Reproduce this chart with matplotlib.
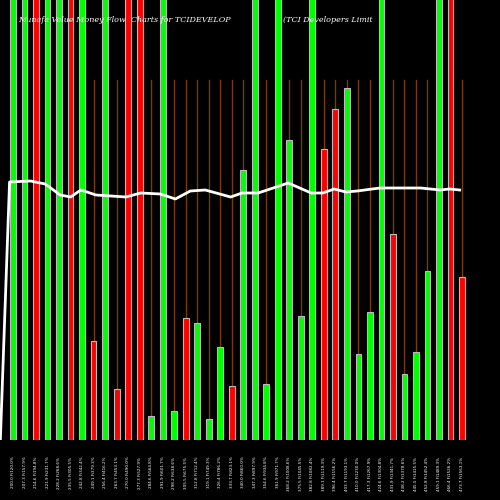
import matplotlib
matplotlib.use("Agg")
import matplotlib.pyplot as plt
import numpy as np

# bar colours and heights (pixel-like units, axis top = 440; taller bars run off the top)
colors = ["g", "g", "r", "g", "g", "r", "g", "r", "g", "r",
          "r", "r", "g", "g", "g", "r", "g", "g", "g", "r",
          "g", "g", "g", "g", "g", "g", "g", "r", "r", "g",
          "g", "g", "g", "r", "g", "g", "g", "g", "r", "r"]
heights = [460, 460, 460, 460, 460, 460, 460, 99, 460, 51,
           460, 460, 24, 460, 29, 122, 117, 21, 93, 54,
           270, 460, 56, 460, 300, 124, 460, 291, 331, 352,
           86, 128, 460, 206, 66, 88, 169, 460, 460, 163]

# white line (x position in bar index units, height)
line_x = [-1.1, -0.3, 1.5, 2.8, 4.1, 5.0, 5.9, 7.2, 9.8, 11.1, 12.8, 14.1, 15.4,
          16.7, 18.9, 19.9, 21.3, 23.9, 25.9, 26.9, 27.9, 28.9, 29.9, 31.2, 31.9,
          35.4, 37.1, 37.9, 38.8]
line_y = [0, 258, 259, 256, 245, 243, 250, 245, 243, 247, 246, 241, 249,
          250, 243, 247, 247, 257, 247, 247, 251, 248, 249, 251, 252,
          252, 250, 251, 250]

labels = ["%d.%d Fi%d.%d%%" % (200 + 7 * i, (13 * i) % 10, 120 + 37 * i, (29 * i) % 10)
          for i in range(len(heights))]

GREEN = "#00ff00"
RED = "#ff0000"

fig = plt.figure(figsize=(5, 5), dpi=100, facecolor="black")
ax = fig.add_axes([0, 0.12, 1, 0.88])
ax.set_facecolor("black")

x = np.arange(len(heights))
for i in x:
    ax.plot([i, i], [0, 360], color="#7a3d00", linewidth=1, zorder=1)
ax.bar(x, heights, width=0.5,
       color=[GREEN if c == "g" else RED for c in colors],
       edgecolor="#bbbbbb", linewidth=0.8, zorder=2)
ax.plot(line_x, line_y, color="white", linewidth=2, zorder=3)

ax.set_xlim(-1.13, 42.3)
ax.set_ylim(0, 440)
ax.set_xticks(x)
ax.set_xticklabels(labels, rotation=90, fontsize=3, color="white")
ax.tick_params(length=0, pad=12)
ax.set_yticks([])
for s in ax.spines.values():
    s.set_visible(False)

fig.text(0.036, 0.955, "Munafa Value Money Flow  Charts for TCIDEVELOP",
         color="white", fontsize=5.8, family="DejaVu Serif", style="italic")
fig.text(0.566, 0.955, "(TCI Developers Limit",
         color="white", fontsize=5.8, family="DejaVu Serif", style="italic")

fig.savefig("out.png", dpi=100, facecolor="black")
